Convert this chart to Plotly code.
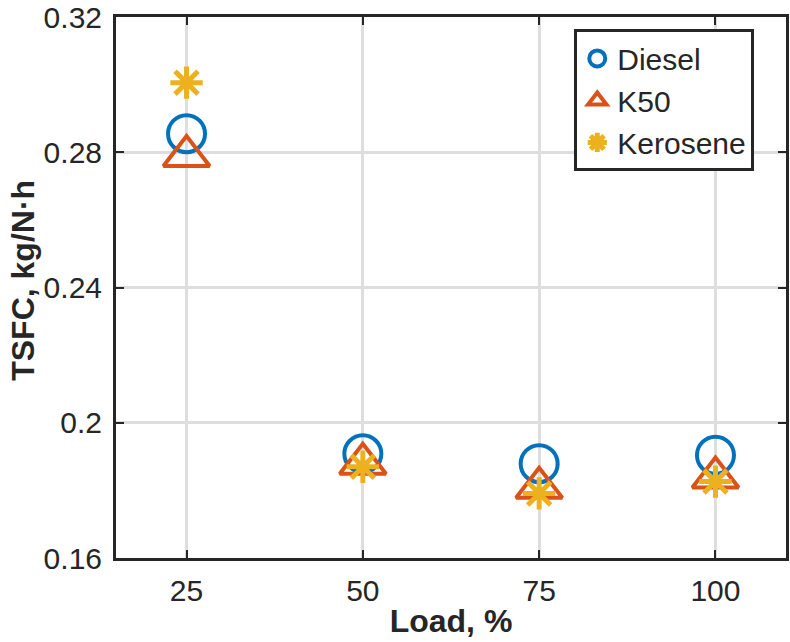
import plotly.graph_objects as go

load = [25, 50, 75, 100]
diesel = [0.2855, 0.1908, 0.1879, 0.1904]
k50 = [0.2789, 0.1879, 0.1808, 0.1838]
kerosene = [0.3006, 0.1870, 0.1791, 0.1826]

x_ticks = [25, 50, 75, 100]
y_ticks = [0.16, 0.2, 0.24, 0.28, 0.32]
y_tick_text = ["0.16", "0.2", "0.24", "0.28", "0.32"]

fig = go.Figure()
fig.add_trace(go.Scatter(
    x=load, y=diesel, mode="markers", name="Diesel",
    marker=dict(symbol="circle-open", size=37, color="#0072BD",
                line=dict(width=4, color="#0072BD"))))
fig.add_trace(go.Scatter(
    x=load, y=k50, mode="markers", name="K50",
    marker=dict(symbol="triangle-up-open", size=40, color="#D95319",
                line=dict(width=4, color="#D95319"))))
fig.add_trace(go.Scatter(
    x=load, y=kerosene, mode="markers", name="Kerosene",
    marker=dict(symbol="asterisk-open", size=27, color="#EDB120",
                line=dict(width=5, color="#EDB120"))))

font_family = "Liberation Sans, Arial, sans-serif"
axis_common = dict(
    showline=True, linecolor="#262626", linewidth=3, mirror="ticks",
    ticks="inside", ticklen=8, tickwidth=2, tickcolor="#262626",
    showgrid=True, gridcolor="#DEDEDE", gridwidth=3, zeroline=False,
    tickfont=dict(family=font_family, size=30, color="#262626"),
    ticklabeloverflow="allow", automargin=False,
)

fig.update_layout(
    width=790, height=642,
    margin=dict(l=116, r=4, t=17, b=84),
    paper_bgcolor="white", plot_bgcolor="white",
    font=dict(family=font_family, color="#262626"),
    xaxis=dict(range=[15, 110], tickvals=x_ticks, ticktext=[str(v) for v in x_ticks],
               title=dict(text="<b>Load, %</b>", font=dict(size=32, family=font_family), standoff=4),
               ticklabelstandoff=4,
               **axis_common),
    yaxis=dict(range=[0.16, 0.32001], tickvals=y_ticks, ticktext=y_tick_text,
               ticklabelstandoff=5,
               **axis_common),
    legend=dict(x=0.684, y=0.977, xanchor="left", yanchor="top",
                bgcolor="white", bordercolor="#262626", borderwidth=3,
                font=dict(size=30, family=font_family, color="#262626"),
                itemsizing="trace", tracegroupgap=0),
    showlegend=True,
    annotations=[dict(
        text="<b>TSFC, kg/N·h</b>", textangle=-90,
        xref="paper", yref="paper", x=-0.139, y=0.514,
        xanchor="center", yanchor="middle", showarrow=False,
        font=dict(size=32, family=font_family, color="#262626"))],
)

fig.write_html("out.html")
